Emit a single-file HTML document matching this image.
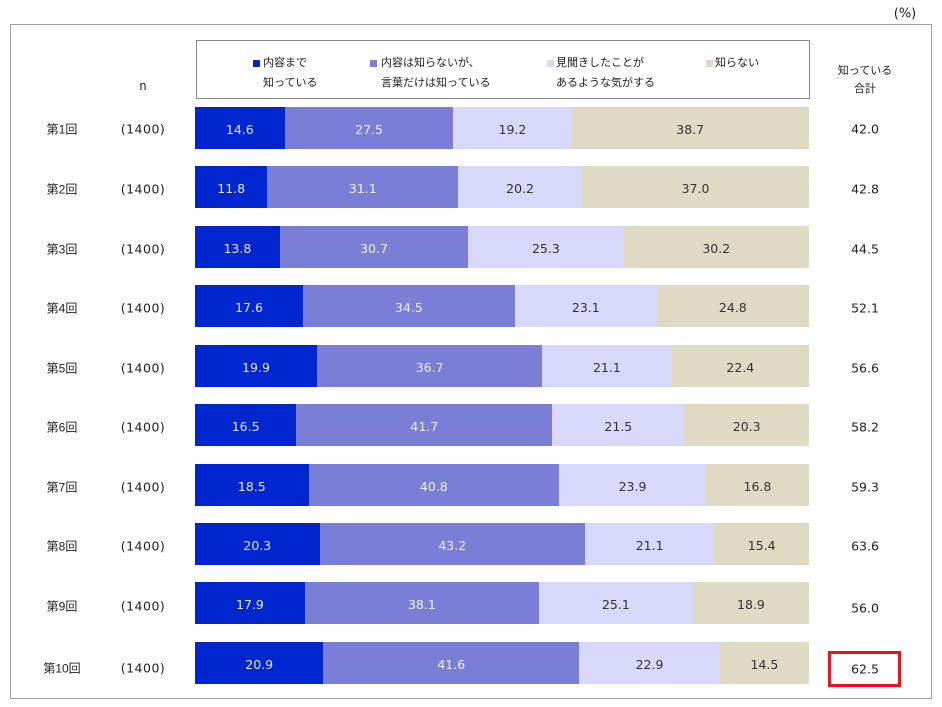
<!DOCTYPE html>
<html><head><meta charset="utf-8">
<style>
*{margin:0;padding:0;box-sizing:border-box}
body{width:942px;height:707px;background:#fff;position:relative;overflow:hidden;font-family:"Liberation Sans","Noto Sans CJK JP",sans-serif;color:#222}
.frame{position:absolute;left:10px;top:24px;width:922px;height:675px;border:1.5px solid #a0a0a0}
.legend{position:absolute;left:196px;top:40px;width:614px;height:59px;border:1px solid #8a8a8a;background:#fff}
.lt{position:absolute;font-size:11px;line-height:14px;color:#222;white-space:nowrap}
.sq{position:absolute;width:7px;height:7px}
.t{position:absolute;font-size:12px;white-space:nowrap;transform:translate(-50%,-50%)}
.num{font-family:"DejaVu Sans","Liberation Sans",sans-serif;font-size:12.5px}
.p{letter-spacing:0.5px}
.row{position:absolute;left:195px;width:614px;height:42px;display:flex}
.row div{height:42px;line-height:45px;text-align:center;font-family:"DejaVu Sans","Liberation Sans",sans-serif;font-size:12.5px;overflow:hidden;white-space:nowrap}
.a{background:#0027cf;color:#e3e6ff}
.b{background:#7a7ed7;color:#eef0fb}
.c{background:#d8d8fa;color:#333}
.d{background:#dfdac4;color:#333}
.red{position:absolute;left:828px;top:651px;width:73px;height:36px;border:3px solid #e8141c}
</style></head><body>
<div class="frame"></div>
<div class="t num" style="left:905px;top:14px;font-size:13px">(%)</div>

<div class="legend"></div>
<div class="sq" style="left:253px;top:60px;background:#0027cf"></div>
<div class="lt" style="left:263px;top:56px">内容まで</div>
<div class="lt" style="left:263px;top:76px">知っている</div>
<div class="sq" style="left:370px;top:60px;background:#7a7ed7"></div>
<div class="lt" style="left:381px;top:56px">内容は知らないが、</div>
<div class="lt" style="left:381px;top:76px">言葉だけは知っている</div>
<div class="sq" style="left:547px;top:60px;background:#d8d8fa"></div>
<div class="lt" style="left:556px;top:56px">見聞きしたことが</div>
<div class="lt" style="left:556px;top:76px">あるような気がする</div>
<div class="sq" style="left:706px;top:60px;background:#dfdac4"></div>
<div class="lt" style="left:715px;top:56px">知らない</div>

<div class="t" style="left:143px;top:86px;font-size:12.5px">n</div>
<div class="t" style="left:865px;top:70px;font-size:11px">知っている</div>
<div class="t" style="left:865px;top:88px;font-size:11px">合計</div>

<!-- Row 1 -->
<div class="t" style="left:62px;top:129px">第1回</div>
<div class="t num p" style="left:143px;top:129px">(1400)</div>
<div class="row" style="top:107px"><div class="a" style="flex:14.6">14.6</div><div class="b" style="flex:27.5">27.5</div><div class="c" style="flex:19.2">19.2</div><div class="d" style="flex:38.7">38.7</div></div>
<div class="t num" style="left:865px;top:129px">42.0</div>

<!-- Row 2 -->
<div class="t" style="left:62px;top:189px">第2回</div>
<div class="t num p" style="left:143px;top:189px">(1400)</div>
<div class="row" style="top:166px"><div class="a" style="flex:11.8">11.8</div><div class="b" style="flex:31.1">31.1</div><div class="c" style="flex:20.2">20.2</div><div class="d" style="flex:37.0">37.0</div></div>
<div class="t num" style="left:865px;top:189px">42.8</div>

<!-- Row 3 -->
<div class="t" style="left:62px;top:249px">第3回</div>
<div class="t num p" style="left:143px;top:249px">(1400)</div>
<div class="row" style="top:226px"><div class="a" style="flex:13.8">13.8</div><div class="b" style="flex:30.7">30.7</div><div class="c" style="flex:25.3">25.3</div><div class="d" style="flex:30.2">30.2</div></div>
<div class="t num" style="left:865px;top:249px">44.5</div>

<!-- Row 4 -->
<div class="t" style="left:62px;top:308px">第4回</div>
<div class="t num p" style="left:143px;top:308px">(1400)</div>
<div class="row" style="top:285px"><div class="a" style="flex:17.6">17.6</div><div class="b" style="flex:34.5">34.5</div><div class="c" style="flex:23.1">23.1</div><div class="d" style="flex:24.8">24.8</div></div>
<div class="t num" style="left:865px;top:308px">52.1</div>

<!-- Row 5 -->
<div class="t" style="left:62px;top:368px">第5回</div>
<div class="t num p" style="left:143px;top:368px">(1400)</div>
<div class="row" style="top:345px"><div class="a" style="flex:19.9">19.9</div><div class="b" style="flex:36.7">36.7</div><div class="c" style="flex:21.1">21.1</div><div class="d" style="flex:22.4">22.4</div></div>
<div class="t num" style="left:865px;top:368px">56.6</div>

<!-- Row 6 -->
<div class="t" style="left:62px;top:427px">第6回</div>
<div class="t num p" style="left:143px;top:427px">(1400)</div>
<div class="row" style="top:404px"><div class="a" style="flex:16.5">16.5</div><div class="b" style="flex:41.7">41.7</div><div class="c" style="flex:21.5">21.5</div><div class="d" style="flex:20.3">20.3</div></div>
<div class="t num" style="left:865px;top:427px">58.2</div>

<!-- Row 7 -->
<div class="t" style="left:62px;top:487px">第7回</div>
<div class="t num p" style="left:143px;top:487px">(1400)</div>
<div class="row" style="top:464px"><div class="a" style="flex:18.5">18.5</div><div class="b" style="flex:40.8">40.8</div><div class="c" style="flex:23.9">23.9</div><div class="d" style="flex:16.8">16.8</div></div>
<div class="t num" style="left:865px;top:487px">59.3</div>

<!-- Row 8 -->
<div class="t" style="left:62px;top:546px">第8回</div>
<div class="t num p" style="left:143px;top:546px">(1400)</div>
<div class="row" style="top:523px"><div class="a" style="flex:20.3">20.3</div><div class="b" style="flex:43.2">43.2</div><div class="c" style="flex:21.1">21.1</div><div class="d" style="flex:15.4">15.4</div></div>
<div class="t num" style="left:865px;top:546px">63.6</div>

<!-- Row 9 -->
<div class="t" style="left:62px;top:606px">第9回</div>
<div class="t num p" style="left:143px;top:606px">(1400)</div>
<div class="row" style="top:582px"><div class="a" style="flex:17.9">17.9</div><div class="b" style="flex:38.1">38.1</div><div class="c" style="flex:25.1">25.1</div><div class="d" style="flex:18.9">18.9</div></div>
<div class="t num" style="left:865px;top:608px">56.0</div>

<!-- Row 10 -->
<div class="t" style="left:62px;top:668px">第10回</div>
<div class="t num p" style="left:143px;top:668px">(1400)</div>
<div class="row" style="top:642px"><div class="a" style="flex:20.9">20.9</div><div class="b" style="flex:41.6">41.6</div><div class="c" style="flex:22.9">22.9</div><div class="d" style="flex:14.5">14.5</div></div>
<div class="red"></div>
<div class="t num" style="left:865px;top:669px">62.5</div>
</body></html>
